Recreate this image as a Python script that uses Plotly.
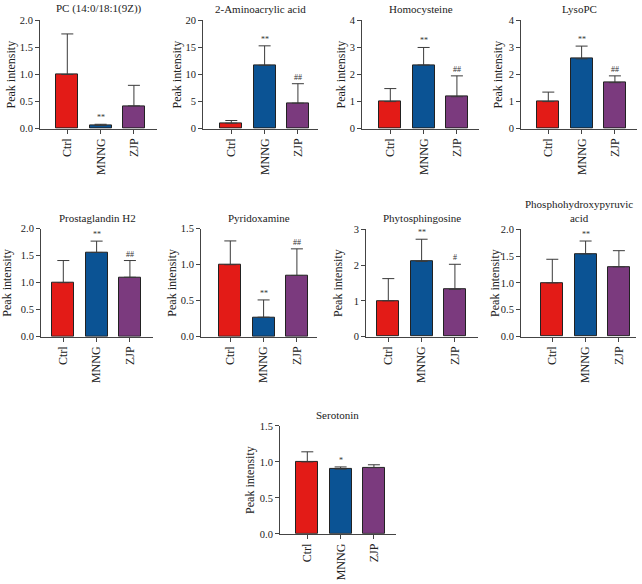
import plotly.graph_objects as go

W, H = 642, 584

groups = ['Ctrl', 'MNNG', 'ZJP']
colors = ['#E31B17', '#0B5394', '#7B3A7E']

titles = ['PC (14:0/18:1(9Z))', '2-Aminoacrylic acid', 'Homocysteine', 'LysoPC',
          'Prostaglandin H2', 'Pyridoxamine', 'Phytosphingosine',
          'Phosphohydroxypyruvic<br>acid', 'Serotonin']

# mean values (Ctrl, MNNG, ZJP)
pc_mean = [1.0, 0.06, 0.42]
amino_mean = [1.0, 11.7, 4.7]
homo_mean = [1.0, 2.35, 1.18]
lyso_mean = [1.0, 2.58, 1.70]
prost_mean = [1.0, 1.56, 1.10]
pyri_mean = [1.0, 0.27, 0.85]
phyto_mean = [1.0, 2.10, 1.32]
phos_mean = [1.0, 1.54, 1.30]
sero_mean = [1.0, 0.90, 0.92]

# upper error (SD)
pc_err = [0.75, 0.02, 0.38]
amino_err = [0.5, 3.6, 3.6]
homo_err = [0.48, 0.65, 0.77]
lyso_err = [0.35, 0.47, 0.25]
prost_err = [0.41, 0.21, 0.31]
pyri_err = [0.33, 0.24, 0.37]
phyto_err = [0.62, 0.62, 0.70]
phos_err = [0.44, 0.24, 0.30]
sero_err = [0.14, 0.03, 0.04]

# significance marks
pc_sig = ['', '**', '']
amino_sig = ['', '**', '##']
homo_sig = ['', '**', '##']
lyso_sig = ['', '**', '##']
prost_sig = ['', '**', '##']
pyri_sig = ['', '**', '##']
phyto_sig = ['', '**', '#']
phos_sig = ['', '**', '']
sero_sig = ['', '*', '']

y_max = [2, 20, 4, 4, 2, 1.5, 3, 2, 1.5]
y_dtick = [0.5, 5, 1, 1, 0.5, 0.5, 1, 0.5, 0.5]
y_fmt = ['.1f', 'd', 'd', 'd', '.1f', '.1f', 'd', '.1f', '.1f']

means = [pc_mean, amino_mean, homo_mean, lyso_mean, prost_mean, pyri_mean, phyto_mean, phos_mean, sero_mean]
errs = [pc_err, amino_err, homo_err, lyso_err, prost_err, pyri_err, phyto_err, phos_err, sero_err]
sigs = [pc_sig, amino_sig, homo_sig, lyso_sig, prost_sig, pyri_sig, phyto_sig, phos_sig, sero_sig]

# panel geometry in pixels: axis left, axis right, axis top, axis bottom, x-range left, ytitle offset
panels = [
    (40, 157, 15.7, 126, -0.82, 29),
    (203, 318, 15.7, 126, -0.85, 26),
    (362, 479, 15.7, 126, -0.85, 21),
    (521, 637, 15.7, 126, -0.82, 23),
    (41, 153, 228, 338, -0.67, 34),
    (201, 317, 228, 338, -0.88, 29),
    (366, 478, 228.5, 338, -0.67, 28),
    (521, 636, 228.5, 338, -0.94, 26),
    (280, 396, 429, 539, -0.82, 30),
]

font = 'Liberation Serif'
axcol = '#444444'

fig = go.Figure()
annotations = []

for i in range(9):
    x0, x1, t, b, xl, yoff = panels[i]
    n = '' if i == 0 else str(i + 1)
    fig.add_trace(go.Bar(
        x=[0, 1, 2], y=means[i], width=0.66,
        marker=dict(color=colors, line=dict(color='#222222', width=1)),
        error_y=dict(type='data', array=errs[i], arrayminus=[0, 0, 0], symmetric=False,
                     color='#3a3a3a', thickness=1, width=6),
        xaxis='x' + n, yaxis='y' + n, showlegend=False,
    ))
    xr = xl + (x1 - x0) / 33.3
    fig.update_layout(**{
        'xaxis' + n: dict(
            domain=[x0 / W, x1 / W], anchor='y' + n, range=[xl, xr],
            tickmode='array', tickvals=[0, 1, 2], ticktext=groups, tickangle=-90,
            showline=True, linecolor=axcol, linewidth=1, ticks='outside', ticklen=4,
            tickcolor=axcol, showgrid=False, zeroline=False,
            tickfont=dict(family=font, size=12, color='#222222'),
        ),
        'yaxis' + n: dict(
            domain=[1 - b / H, 1 - t / H], anchor='x' + n, range=[0, y_max[i]],
            tickmode='linear', tick0=0, dtick=y_dtick[i], tickformat=y_fmt[i],
            showline=True, linecolor=axcol, linewidth=1, ticks='outside', ticklen=4,
            tickcolor=axcol, showgrid=False, zeroline=False,
            tickfont=dict(family=font, size=10.5, color='#222222'),
        ),
    })
    annotations.append(dict(
        text=titles[i], xref='paper', yref='paper', x=(x0 + x1) / 2 / W, y=1 - (t - 3) / H,
        xanchor='center', yanchor='bottom', showarrow=False,
        font=dict(family=font, size=11, color='#222222'),
    ))
    annotations.append(dict(
        text='Peak intensity', xref='paper', yref='paper', x=(x0 - yoff) / W, y=1 - (t + b) / 2 / H,
        xanchor='center', yanchor='middle', textangle=-90, showarrow=False,
        font=dict(family=font, size=12, color='#222222'),
    ))
    for j in range(3):
        if sigs[i][j]:
            annotations.append(dict(
                text=sigs[i][j], xref='x' + n, yref='y' + n, x=j, y=means[i][j] + errs[i][j],
                xanchor='center', yanchor='bottom', yshift=0, showarrow=False,
                font=dict(family=font, size=8, color='#333333'),
            ))

fig.update_layout(
    width=W, height=H, margin=dict(l=0, r=0, t=0, b=0),
    plot_bgcolor='white', paper_bgcolor='white',
    annotations=annotations, bargap=0,
)

# 去掉瀏覽器預設的 body 邊距, 不顯示工具列
fig.write_html('out.html', config={'displayModeBar': False},
               post_script="document.body.style.margin='0';")
